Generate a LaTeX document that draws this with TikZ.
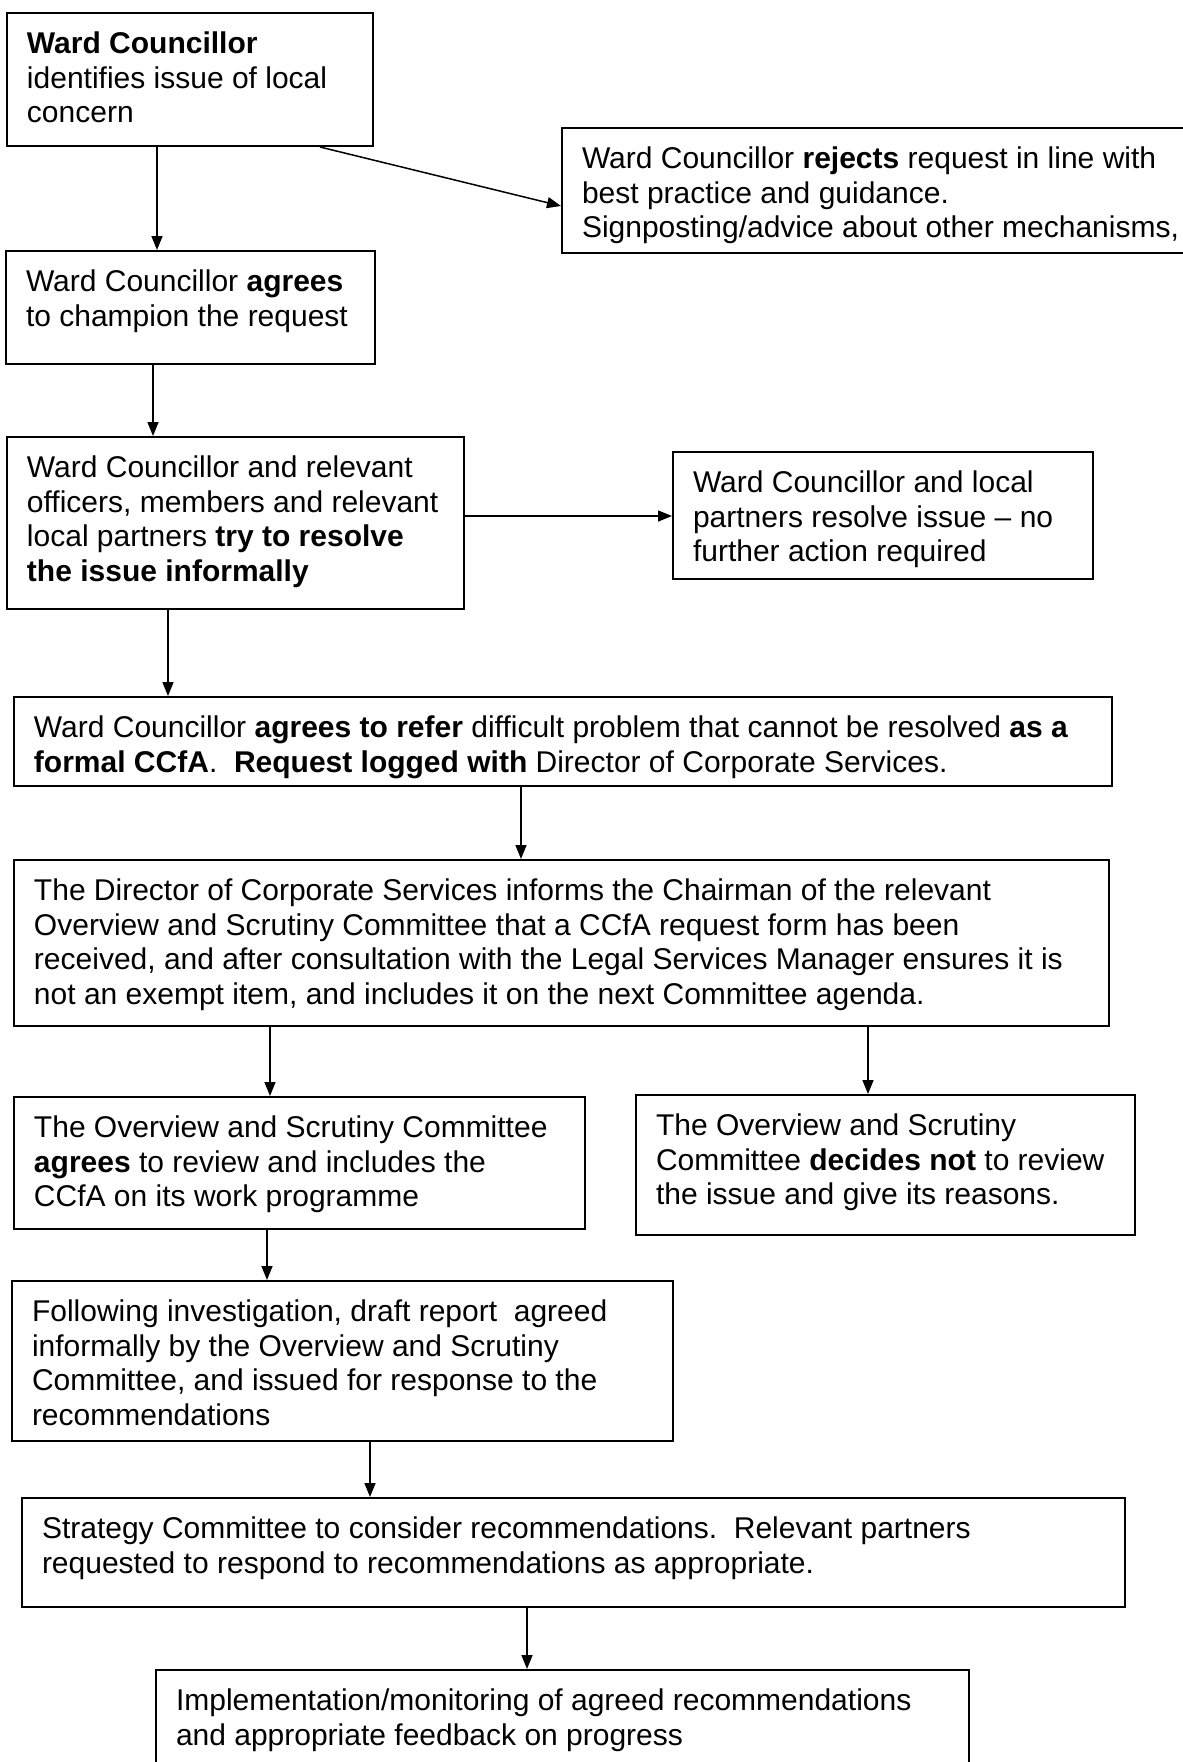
\documentclass[tikz,border=0pt]{standalone}
\usepackage{fontspec}
\setmainfont{Liberation Sans}
\usetikzlibrary{arrows.meta}
\newcommand\bline[1]{\hbox to\hsize{#1\hfil}}
\newcommand\firstline[1]{\hbox to\hsize{\rule{0pt}{40.5pt}#1\hfil}}
\newcommand\fbx[6]{%
  \node[flowbox] (#1) at (#2,#3) {\vbox to \dimexpr #5pt-#3pt\relax{\hsize=\dimexpr #4pt-#2pt-40pt\relax
      \baselineskip=34.5pt \lineskip=1pt \lineskiplimit=0pt #6\vfil}};}
\begin{document}
\begin{tikzpicture}[x=1pt,y=-1pt,
  flowbox/.style={draw, line width=2pt, inner xsep=20pt, inner ysep=0pt, anchor=north west,
    font=\fontsize{30}{34.5}\selectfont},
  arr/.style={line width=1.5pt, -{Triangle[length=14pt,width=11pt]}}]
\useasboundingbox (0,0) rectangle (1183,1762);
\fill[white] (0,0) rectangle (1183,1762);
\clip (0,0) rectangle (1183,1762);

\fbx{A}{6}{12}{372}{145}{\firstline{\textbf{Ward Councillor}}\bline{identifies issue of local}\bline{concern}}
\fbx{R}{561}{127}{1260}{252}{\firstline{Ward Councillor \textbf{rejects} request in line with}\bline{best practice and guidance.}\bline{Signposting/advice about other mechanisms,}}
\fbx{B}{5}{250}{374}{363}{\firstline{Ward Councillor \textbf{agrees}}\bline{to champion the request}}
\fbx{C}{6}{436}{463}{608}{\firstline{Ward Councillor and relevant}\bline{officers, members and relevant}\bline{local partners \textbf{try to resolve}}\bline{\textbf{the issue informally}}}
\fbx{D}{672}{451}{1092}{578}{\firstline{Ward Councillor and local}\bline{partners resolve issue – no}\bline{further action required}}
\fbx{E}{13}{696}{1111}{785}{\firstline{Ward Councillor \textbf{agrees to refer} difficult problem that cannot be resolved \textbf{as a}}\bline{\textbf{formal CCfA}.\ \ \textbf{Request logged with} Director of Corporate Services.}}
\fbx{F}{13}{859}{1108}{1025}{\firstline{The Director of Corporate Services informs the Chairman of the relevant}\bline{Overview and Scrutiny Committee that a CCfA request form has been}\bline{received, and after consultation with the Legal Services Manager ensures it is}\bline{not an exempt item, and includes it on the next Committee agenda.}}
\fbx{G}{13}{1096}{584}{1228}{\firstline{The Overview and Scrutiny Committee}\bline{\textbf{agrees} to review and includes the}\bline{CCfA on its work programme}}
\fbx{H}{635}{1094}{1134}{1234}{\firstline{The Overview and Scrutiny}\bline{Committee \textbf{decides not} to review}\bline{the issue and give its reasons.}}
\fbx{I}{11}{1280}{672}{1440}{\firstline{Following investigation, draft report\ \ agreed}\bline{informally by the Overview and Scrutiny}\bline{Committee, and issued for response to the}\bline{recommendations}}
\fbx{J}{21}{1497}{1124}{1606}{\firstline{Strategy Committee to consider recommendations.\ \ Relevant partners}\bline{requested to respond to recommendations as appropriate.}}
\fbx{K}{155}{1669}{968}{1860}{\firstline{Implementation/monitoring of agreed recommendations}\bline{and appropriate feedback on progress}}

\coordinate (xab) at (157,0);
\coordinate (xar) at (320,0);
\coordinate (yar) at (0,206);
\coordinate (xbc) at (153,0);
\coordinate (ycd) at (0,516);
\coordinate (xce) at (168,0);
\coordinate (xef) at (521,0);
\coordinate (xfg) at (270,0);
\coordinate (xfh) at (868,0);
\coordinate (xgi) at (267,0);
\coordinate (xij) at (370,0);
\coordinate (xjk) at (527,0);

\draw[arr] (A.south -| xab) -- (B.north -| xab);
\draw[arr] (A.south -| xar) -- (R.west |- yar);
\draw[arr] (B.south -| xbc) -- (C.north -| xbc);
\draw[arr] (C.east |- ycd) -- (D.west |- ycd);
\draw[arr] (C.south -| xce) -- (E.north -| xce);
\draw[arr] (E.south -| xef) -- (F.north -| xef);
\draw[arr] (F.south -| xfg) -- (G.north -| xfg);
\draw[arr] (F.south -| xfh) -- (H.north -| xfh);
\draw[arr] (G.south -| xgi) -- (I.north -| xgi);
\draw[arr] (I.south -| xij) -- (J.north -| xij);
\draw[arr] (J.south -| xjk) -- (K.north -| xjk);
\end{tikzpicture}
\end{document}
